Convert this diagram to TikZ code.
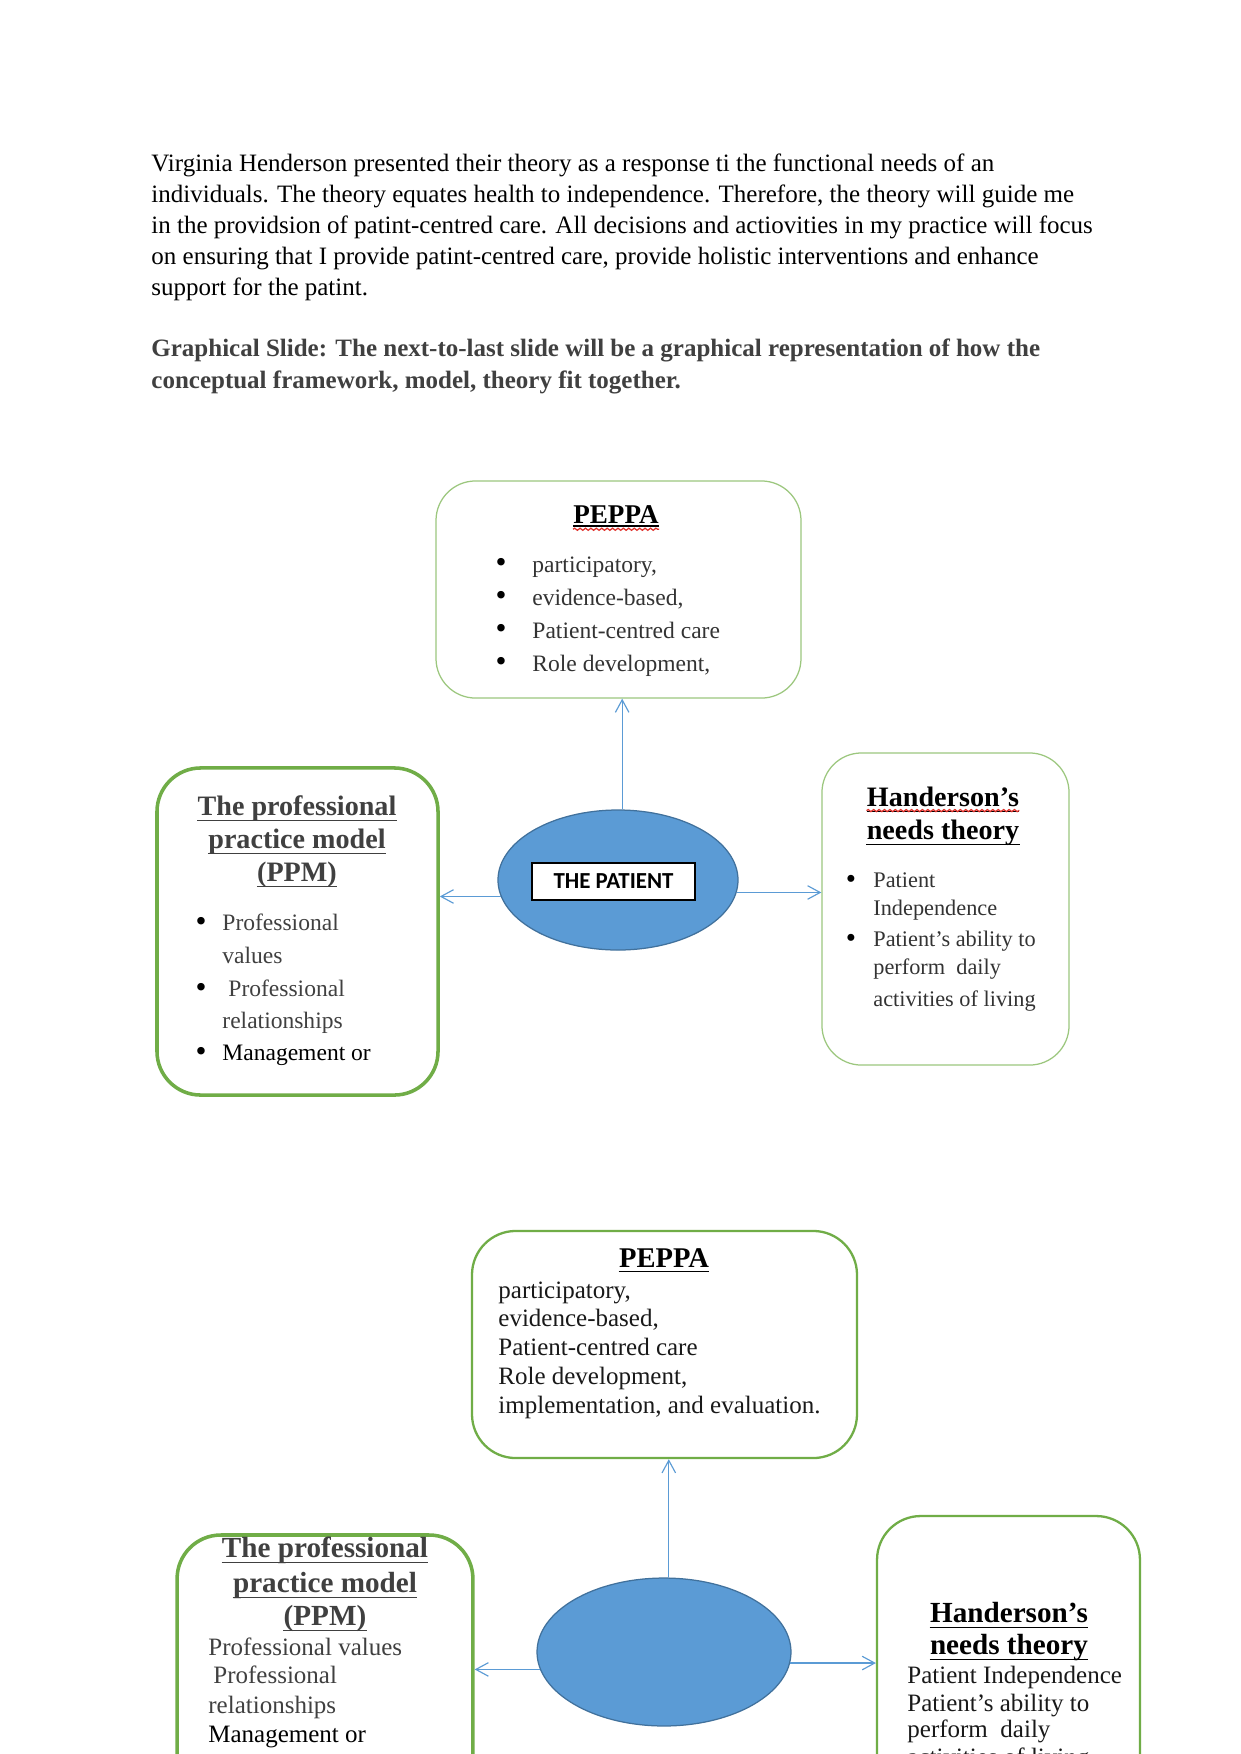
\documentclass[tikz,border=0pt]{standalone}
\usepackage{fontspec}
\setmainfont{Liberation Serif}
\newfontfamily\calfont{Carlito}
\usetikzlibrary{shapes.geometric,arrows.meta,decorations.pathmorphing}
\definecolor{thingreen}{HTML}{9CC77E}
\definecolor{boxgreen}{HTML}{70AD47}
\definecolor{ablue}{HTML}{5B9BD5}
\definecolor{eblue}{HTML}{41719C}
\definecolor{dgray}{HTML}{404040}
\definecolor{igray}{HTML}{333333}
\definecolor{wavered}{HTML}{E0302A}
\newcommand\fsz[1]{\fontsize{#1}{#1}\selectfont}
\tikzset{
  greenthin/.style={rectangle, draw=thingreen, line width=0.6pt, rounded corners=19pt, inner sep=0pt},
  greenthick/.style={rectangle, draw=boxgreen, line width=1.7pt, rounded corners=21pt, inner sep=0pt},
  greenmed/.style={rectangle, draw=boxgreen, line width=1.1pt, rounded corners=21pt, inner sep=0pt},
  txt/.style={inner sep=0pt, anchor=base west},
  ttl/.style={inner sep=0pt, anchor=base},
  bul/.style={inner sep=0pt, anchor=base},
  ulline/.style={line width=0.65pt},
  wavy/.style={draw=wavered, line width=0.6pt, decorate, decoration={snake, amplitude=0.5pt, segment length=2.6pt}},
  arr/.style={draw=ablue, line width=0.55pt, -{Straight Barb[length=6pt,width=6.5pt]}},
  patient/.style={ellipse, fill=ablue, draw=eblue, line width=0.6pt, inner sep=0pt},
  patbox/.style={rectangle, draw=black, fill=white, line width=0.7pt, inner sep=0pt,
    minimum width=78.2pt, minimum height=17.8pt, font=\calfont\bfseries\fsz{11}}
}
\begin{document}
\begin{tikzpicture}[x=0.48pt, y=-0.48pt]
\path[use as bounding box] (0,0) rectangle (1241,1754);
\clip (0,0) rectangle (1241,1754);
\fill[white] (0,0) rectangle (1241,1754);

% ---------- paragraph ----------
\node[txt, font=\fsz{12}] (p1) at (151,171) {Virginia Henderson presented their theory as a response ti the functional needs of an};
\node[txt, font=\fsz{12}] (p2) at (151,202) {individuals. The theory equates health to independence. Therefore, the theory will guide me};
\node[txt, font=\fsz{12}] (p3) at (151,233) {in the providsion of patint-centred care. All decisions and actiovities in my practice will focus};
\node[txt, font=\fsz{12}] (p4) at (151,264) {on ensuring that I provide patint-centred care, provide holistic interventions and enhance};
\node[txt, font=\fsz{12}] (p5) at (151,295) {support for the patint.};
\node[txt, font=\fsz{12}\bfseries, text=dgray] (h1) at (151,356) {Graphical Slide: The next-to-last slide will be a graphical representation of how the};
\node[txt, font=\fsz{12}\bfseries, text=dgray] (h2) at (151,388) {conceptual framework, model, theory fit together.};

% ---------- diagram 1 ----------
\node[greenthin, minimum width=175.2pt, minimum height=104.2pt] (peppa1) at (618.5,589.5) {};
\node[greenthick, minimum width=134.9pt, minimum height=157pt] (ppm1) at (297.5,931.5) {};
\node[greenthin, minimum width=118.6pt, minimum height=149.8pt] (hand1) at (945.5,909) {};
\node[patient, minimum width=115.2pt, minimum height=67.2pt] (ell1) at (618,880) {};
\node[patbox] (pat1) at (613.5,881.5) {THE PATIENT};

% PEPPA 1 text
\node[ttl, font=\fsz{13}\bfseries] (ta) at (616,523) {PEPPA};
\draw[ulline] ([yshift=-1.4pt]ta.base west) -- ([yshift=-1.4pt]ta.base east);
\draw[wavy] ([yshift=-3pt]ta.base west) -- ([yshift=-3pt]ta.base east);
\foreach \yy/\tt [count=\i] in {572/{participatory,}, 605/{evidence-based,}, 638/{Patient-centred care}, 671/{Role development,}}{
  \node[bul, font=\fsz{15}] (pa\i) at (501,\yy) {\textbullet};
  \node[txt, font=\fsz{11.3}, text=igray] (pt\i) at (532,\yy) {\tt};
}

% PPM 1 text
\node[ttl, font=\fsz{13.5}\bfseries, text=dgray] (tb1) at (297,815) {The professional};
\node[ttl, font=\fsz{13.5}\bfseries, text=dgray] (tb2) at (297,848) {practice model};
\node[ttl, font=\fsz{13.5}\bfseries, text=dgray] (tb3) at (297,881) {(PPM)};
\foreach \n in {tb1,tb2,tb3}{
  \draw[ulline, dgray] ([yshift=-2.6pt]\n.base west) -- ([yshift=-2.6pt]\n.base east);
}
\node[bul, font=\fsz{15}] (pb1) at (201,931) {\textbullet};
\node[bul, font=\fsz{15}] (pb2) at (201,997) {\textbullet};
\node[bul, font=\fsz{15}] (pb3) at (201,1061) {\textbullet};
\node[txt, font=\fsz{11.3}, text=dgray] (qb1) at (222,930) {Professional};
\node[txt, font=\fsz{11.3}, text=dgray] (qb2) at (222,963) {values};
\node[txt, font=\fsz{11.3}, text=dgray] (qb3) at (228,996) {Professional};
\node[txt, font=\fsz{11.3}, text=dgray] (qb4) at (222,1028) {relationships};
\node[txt, font=\fsz{11.3}, text=black] (qb5) at (222,1060) {Management or};

% Handerson 1 text
\node[ttl, font=\fsz{13.5}\bfseries] (tc1) at (943,806) {Handerson’s};
\node[ttl, font=\fsz{13.5}\bfseries] (tc2) at (943,839) {needs theory};
\draw[ulline] ([yshift=-2.6pt]tc1.base west) -- ([yshift=-2.6pt]tc1.base east);
\draw[wavy] ([yshift=-2.2pt]tc1.base west) -- ([yshift=-2.2pt]tc1.base east);
\draw[ulline] ([yshift=-2.6pt]tc2.base west) -- ([yshift=-2.6pt]tc2.base east);
\node[bul, font=\fsz{14}] (pc1) at (851,888) {\textbullet};
\node[bul, font=\fsz{14}] (pc2) at (851,947) {\textbullet};
\node[txt, font=\fsz{10.7}, text=igray] (qc1) at (873,887) {Patient};
\node[txt, font=\fsz{10.7}, text=igray] (qc2) at (873,915) {Independence};
\node[txt, font=\fsz{10.7}, text=igray] (qc3) at (873,946) {Patient’s ability to};
\node[txt, font=\fsz{10.7}, text=igray] (qc4) at (873,974) {perform\ \ daily};
\node[txt, font=\fsz{10.7}, text=igray] (qc5) at (873,1006) {activities of living};

% connectors 1
\draw[arr] ([xshift=2pt]ell1.north) -- ([xshift=2pt]ell1.north |- peppa1.south);
\draw[arr] (ell1.188.6) -- (ell1.188.6 -| ppm1.east);
\draw[arr] (ell1.354.7) -- (ell1.354.7 -| hand1.west);

% ---------- diagram 2 ----------
\node[greenmed, minimum width=184.8pt, minimum height=109pt] (peppa2) at (664.5,1344.5) {};
\node[greenthick, minimum width=142pt, minimum height=175.2pt] (ppm2) at (325,1717.5) {};
\node[greenmed, minimum width=126.2pt, minimum height=184.3pt] (hand2) at (1008.5,1708) {};
\node[patient, minimum width=121.9pt, minimum height=71pt] (ell2) at (664,1652) {};

\node[ttl, font=\fsz{13.7}\bfseries] (td) at (664,1267) {PEPPA};
\draw[ulline] ([yshift=-2pt]td.base west) -- ([yshift=-2pt]td.base east);
\foreach \yy/\tt [count=\i] in {1298/{participatory,}, 1326/{evidence-based,}, 1355/{Patient-centred care}, 1384/{Role development,}, 1413/{implementation, and evaluation.}}{
  \node[txt, font=\fsz{12}, text=black!90] (qd\i) at (498,\yy) {\tt};
}

\node[ttl, font=\fsz{14}\bfseries, text=dgray] (te1) at (325,1557) {The professional};
\node[ttl, font=\fsz{14}\bfseries, text=dgray] (te2) at (325,1592) {practice model};
\node[ttl, font=\fsz{14}\bfseries, text=dgray] (te3) at (325,1625) {(PPM)};
\foreach \n in {te1,te2,te3}{
  \draw[ulline, dgray] ([yshift=-2.6pt]\n.base west) -- ([yshift=-2.6pt]\n.base east);
}
\node[txt, font=\fsz{12}, text=dgray] (qe1) at (208,1655) {Professional values};
\node[txt, font=\fsz{12}, text=dgray] (qe2) at (213,1683) {Professional};
\node[txt, font=\fsz{12}, text=dgray] (qe3) at (208,1713) {relationships};
\node[txt, font=\fsz{12}, text=black] (qe4) at (208,1742) {Management or};

\node[ttl, font=\fsz{14}\bfseries] (tf1) at (1009,1622) {Handerson’s};
\node[ttl, font=\fsz{14}\bfseries] (tf2) at (1009,1654) {needs theory};
\foreach \n in {tf1,tf2}{
  \draw[ulline] ([yshift=-2.6pt]\n.base west) -- ([yshift=-2.6pt]\n.base east);
}
\node[txt, font=\fsz{12}, text=black!90] (qf1) at (907,1683) {Patient Independence};
\node[txt, font=\fsz{12}, text=black!90] (qf2) at (907,1711) {Patient’s ability to};
\node[txt, font=\fsz{12}, text=black!90] (qf3) at (907,1737) {perform\ \ daily};
\node[txt, font=\fsz{12}, text=black!90] (qf4) at (907,1765) {activities of living};

% connectors 2
\draw[arr] ([xshift=2.3pt]ell2.north) -- ([xshift=2.3pt]ell2.north |- peppa2.south);
\draw[arr] (ell2.188.8) -- (ell2.188.8 -| ppm2.east);
\draw[arr] (ell2.355) -- (ell2.355 -| hand2.west);
\end{tikzpicture}
\end{document}
